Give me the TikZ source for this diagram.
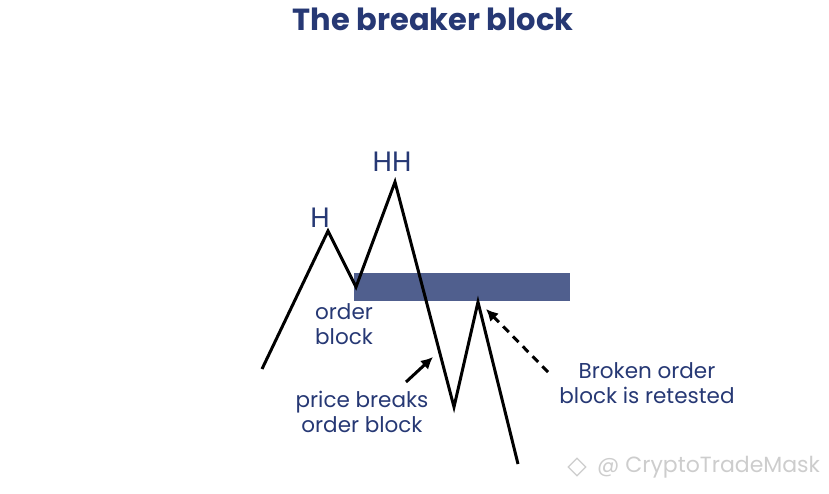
\documentclass[tikz,border=0pt]{standalone}
\usepackage{fontspec}
\setmainfont{Poppins}
\usepackage{xcolor}
\usetikzlibrary{arrows.meta, positioning, calc, shapes.geometric}
\definecolor{navy}{RGB}{38,56,116}
\definecolor{obfill}{RGB}{80,95,142}
\definecolor{wmgray}{RGB}{205,205,205}
\tikzset{
  price/.style={line width=3pt, black, line join=miter, line cap=butt},
  obox/.style={fill=obfill, draw=none},
  label/.style={text=navy, align=center, font=\fontsize{21.5}{25}\selectfont, inner sep=0pt},
  peak/.style={text=navy, font=\fontsize{28}{30}\selectfont, inner sep=0pt},
  arrow/.style={-{Latex[length=12pt, width=12pt]}, line width=3pt, black},
  dasharrow/.style={arrow, dash pattern=on 8pt off 6pt},
  watermark/.style={text=wmgray, font=\fontsize{22}{26}\selectfont, inner sep=0pt}
}

\begin{document}
\begin{tikzpicture}[x=1pt, y=-1pt]
    \useasboundingbox (0,0) rectangle (829,493);

    % title
    \node[text=navy, font=\fontsize{30.5}{34}\selectfont\bfseries] (title) at (433,19) {The breaker block};

    % order block zone
    \node[obox, minimum width=216pt, minimum height=28pt, inner sep=0pt] (ob) at (462,287) {};

    % price path
    \coordinate (p0) at (262,369);
    \coordinate (h) at (328,231);
    \coordinate (low) at (356,287);
    \coordinate (hh) at (395,182);
    \coordinate (bot) at (454,407);
    \coordinate (retest) at (478,302);
    \coordinate (p6) at (518,464);
    \draw[price] (p0) -- (h) -- (low) -- (hh) -- (bot) -- (retest) -- (p6);

    \node[peak] (hlbl) at (320,218) {H};
    \node[peak] (hhlbl) at (392,162) {HH};

    \node[label, align=left, anchor=north west] (oblbl) at (315,303) {order\\block};
    \node[label] (breaks) at (362,412) {price breaks\\order block};
    \node[label] (retested) at (647,383) {Broken order\\block is retested};

    \coordinate (breaktail) at (406,382);
    \coordinate (breakhead) at (433,357);
    \draw[arrow] (breaktail) -- (breakhead);
    \coordinate (retesttail) at (548,372);
    \coordinate (retesthead) at (486,309);
    \draw[dasharrow] (retesttail) -- (retesthead);

    % watermark
    \node[diamond, draw=wmgray, line width=1.2pt, minimum size=18pt, inner sep=0pt] (logo) at (577,467) {};
    \node[watermark, anchor=west] (wm) at (597,467) {@ CryptoTradeMask};
\end{tikzpicture}
\end{document}
